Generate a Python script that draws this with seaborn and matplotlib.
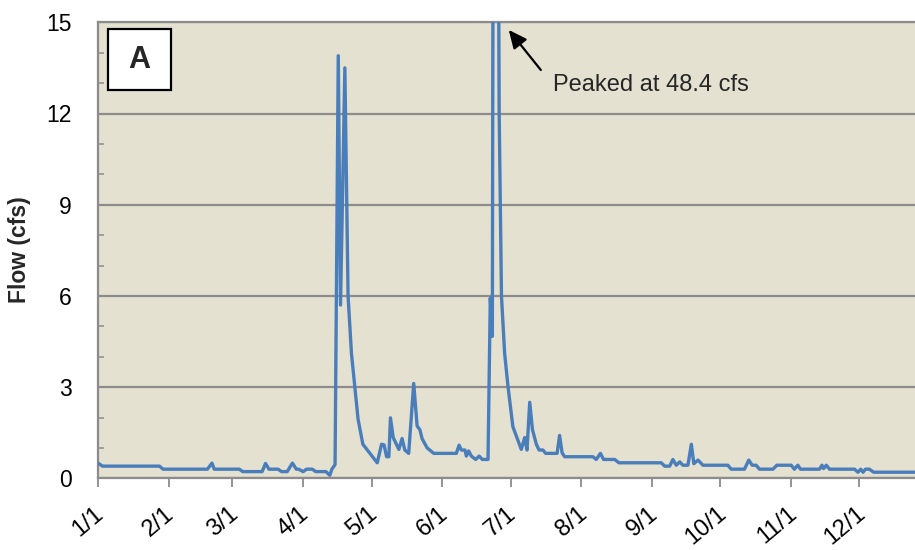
import matplotlib
matplotlib.use("Agg")
import matplotlib.pyplot as plt
import matplotlib.patches as mpatches
from matplotlib.transforms import ScaledTranslation
import seaborn as sns
import pandas as pd

# ---- data (day of year, 0 = Jan 1) ----
day_of_year = [0, 2, 27, 28.5, 48, 50, 51, 62, 63.5, 72, 73.5, 75, 79, 80.5, 83, 85.3, 87, 88,
               90, 91.5, 94, 95.5, 100, 101.7, 102.6, 104, 105.4, 106.4, 108.3, 109.7, 111.2,
               112.7, 114.1, 116.2, 122.5, 124.4, 125.5, 126.6, 127.6, 128.3, 129.5, 132, 133.4,
               134.6, 136.3, 138.5, 140, 141.2, 142.2, 144.4, 147.3, 157.2, 158.4, 159.4, 161,
               161.6, 162.6, 163.8, 165.7, 167.2, 168.6, 171.1, 172.1, 173, 174, 175, 176, 177,
               178.4, 179.9, 182, 185.7, 187.2, 188.2, 189.4, 190.6, 192.3, 193.5, 195.2, 196.4,
               201.4, 202.5, 203.6, 204.7, 217.1, 218.6, 220.4, 221.8, 226.7, 228.5, 247.1, 248.6,
               250.8, 252.2, 253.7, 255.2, 256.6, 258.8, 260.3, 261.4, 263.2, 265.4, 276.3, 277.8,
               283.6, 285.5, 287, 288.7, 290.2, 296.1, 297.8, 304.1, 305.5, 307, 308.2, 316.5,
               317.6, 318.3, 319.5, 320.9, 331.9, 333.4, 334.6, 335.6, 336.7, 338.4, 340.3, 365]
flow_cfs = [0.5, 0.4, 0.4, 0.3, 0.3, 0.5, 0.3, 0.3, 0.22, 0.22, 0.49, 0.3, 0.3, 0.22, 0.22, 0.5, 0.3, 0.3,
            0.22, 0.3, 0.3, 0.22, 0.22, 0.1, 0.3, 0.45, 13.9, 5.7, 13.5, 6.0, 4.1,
            3.0, 1.94, 1.12, 0.51, 1.12, 1.1, 0.71, 0.71, 1.99, 1.34, 0.95, 1.31,
            0.93, 0.82, 3.12, 1.72, 1.6, 1.3, 1.0, 0.82, 0.82, 1.09, 0.93, 0.93,
            0.73, 0.9, 0.73, 0.62, 0.73, 0.62, 0.62, 5.93, 4.67, 48.4, 30.0, 12.0, 6.0,
            4.1, 3.0, 1.7, 0.95, 1.34, 0.93, 2.5, 1.6, 1.12, 0.93, 0.93, 0.82,
            0.82, 1.41, 0.84, 0.71, 0.71, 0.62, 0.82, 0.62, 0.62, 0.51, 0.51, 0.4,
            0.4, 0.62, 0.43, 0.54, 0.43, 0.43, 1.12, 0.48, 0.6, 0.43, 0.43, 0.3,
            0.3, 0.6, 0.43, 0.43, 0.3, 0.3, 0.43, 0.43, 0.3, 0.43, 0.3, 0.3,
            0.43, 0.32, 0.43, 0.3, 0.3, 0.2, 0.3, 0.2, 0.3, 0.3, 0.2, 0.2]
month_start_days = [0, 31, 59, 90, 120, 151, 181, 212, 243, 273, 304, 334]
month_labels = ["1/1", "2/1", "3/1", "4/1", "5/1", "6/1", "7/1", "8/1", "9/1", "10/1", "11/1", "12/1"]
y_major_ticks = [0, 3, 6, 9, 12, 15]
y_minor_ticks = [1, 2, 4, 5, 7, 8, 10, 11, 13, 14]
y_label = "Flow (cfs)"
peak_label = "Peaked at 48.4 cfs"
panel_label = "A"

sns.set_style("white")
plt.rcParams['font.family'] = ['Liberation Sans', 'DejaVu Sans']

W, H = 915, 550
fig = plt.figure(figsize=(W / 100, H / 100), dpi=100)
ax_left, ax_top, ax_bottom, ax_w = 98, 22.3, 478.3, 832
ax = fig.add_axes([ax_left / W, 1 - ax_bottom / H, ax_w / W, (ax_bottom - ax_top) / H])
ax.set_facecolor('#E4E1D1')

df = pd.DataFrame({'day': day_of_year, 'flow': flow_cfs})
sns.lineplot(data=df, x='day', y='flow', ax=ax, color='#4A7EBB', linewidth=2.4,
             estimator=None, sort=False, solid_joinstyle='round', zorder=3)

ax.set_xlim(0, 365)
ax.set_ylim(0, 15)
ax.set_xlabel('')
ax.set_ylabel('')

grid_c = '#8C8C8C'
ax.set_yticks(y_major_ticks)
ax.set_yticks(y_minor_ticks, minor=True)
ax.yaxis.grid(True, which='major', color=grid_c, linewidth=1.6)
ax.set_axisbelow(True)
ax.tick_params(axis='y', which='major', direction='inout', length=10, width=1.3,
               color=grid_c, pad=13.7, labelsize=16.5, labelcolor='black')
ax.tick_params(axis='y', which='minor', direction='in', length=4.3, width=1.1, color=grid_c, left=True)

ax.set_xticks(month_start_days)
ax.set_xticklabels(month_labels, rotation=40, ha='right', va='center', rotation_mode='anchor')
ax.tick_params(axis='x', which='major', direction='out', length=6.5, width=1.3, color=grid_c,
               pad=17, labelsize=17, labelcolor='black', bottom=True)
offset = ScaledTranslation(0.03, 0, fig.dpi_scale_trans)
for lbl in ax.get_xticklabels():
    lbl.set_transform(lbl.get_transform() + offset)

for side in ['left', 'bottom', 'top']:
    ax.spines[side].set_color(grid_c)
    ax.spines[side].set_linewidth(1.6)
ax.spines['right'].set_visible(False)

fig.text(20 / W, 1 - 250 / H, y_label, rotation=90, ha='center', va='center',
         fontsize=16.5, fontweight='bold')

# panel label box
fig.add_artist(mpatches.Rectangle((108 / W, 1 - 90 / H), 63 / W, 61 / H, transform=fig.transFigure,
                                  facecolor='white', edgecolor='black', linewidth=1.6, zorder=5))
fig.text(139.5 / W, 1 - 59.5 / H, panel_label, ha='center', va='center', fontsize=22,
         fontweight='bold', zorder=6)

ax.annotate(peak_label, xy=(180.2, 14.75), xytext=(199.5, 12.94), ha='left', va='center',
            fontsize=17,
            arrowprops=dict(arrowstyle='-|>,head_length=0.65,head_width=0.3', color='black',
                            lw=1.6, relpos=(0, 0.5), shrinkA=10, shrinkB=0))

fig.savefig('out.png', dpi=100)
